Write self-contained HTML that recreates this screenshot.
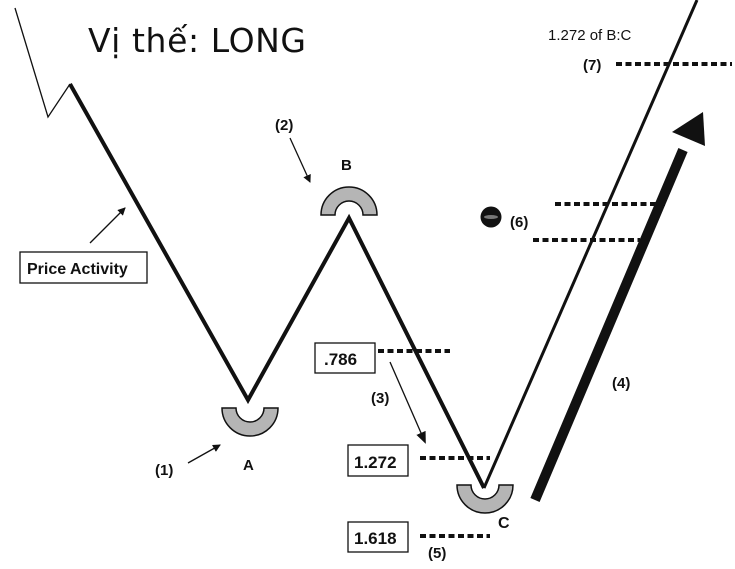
<!DOCTYPE html>
<html><head><meta charset="utf-8"><style>
body{margin:0;background:#fff}
svg text{font-family:"Liberation Sans",sans-serif;font-weight:bold;fill:#111}
</style></head><body>
<svg width="735" height="564" viewBox="0 0 735 564" xmlns="http://www.w3.org/2000/svg">
<defs><marker id="ah" markerWidth="8" markerHeight="8" refX="7" refY="4" orient="auto" markerUnits="userSpaceOnUse" viewBox="0 0 8 8"><path d="M0,0 L8,4 L0,8 Z" fill="#111"/></marker>
<marker id="ah2" markerWidth="12" markerHeight="12" refX="10" refY="6" orient="auto" markerUnits="userSpaceOnUse" viewBox="0 0 12 12"><path d="M0,1 L12,6 L0,11 Z" fill="#111"/></marker></defs>
<text x="88" y="52" font-size="33" style="font-weight:normal;font-family:'DejaVu Sans','Liberation Sans',sans-serif" textLength="218" fill="#111">Vị thế: LONG</text>
<polyline points="15,8 48,117 70,84" fill="none" stroke="#111" stroke-width="1.3"/>
<polyline points="70,84 248,400 349,218 484,488" fill="none" stroke="#111" stroke-width="4"/>
<line x1="484" y1="488" x2="697" y2="0" stroke="#111" stroke-width="3"/>
<!-- arches -->
<path d="M321,215 A28,28 0 0 1 377,215 L363,215 A14,14 0 0 0 335,215 Z" fill="#b5b5b5" stroke="#111" stroke-width="1.5"/>
<path d="M222,408 A28,28 0 0 0 278,408 L264,408 A14,14 0 0 1 236,408 Z" fill="#b5b5b5" stroke="#111" stroke-width="1.5"/>
<path d="M457,485 A28,28 0 0 0 513,485 L499,485 A14,14 0 0 1 471,485 Z" fill="#b5b5b5" stroke="#111" stroke-width="1.5"/>
<!-- big arrow -->
<line x1="535" y1="500" x2="683" y2="150" stroke="#111" stroke-width="10"/>
<polygon points="703,112 705,146 672,132" fill="#111"/>
<!-- price activity -->
<rect x="20" y="252" width="127" height="31" fill="#fff" stroke="#111" stroke-width="1.3"/>
<text x="27" y="274" font-size="16">Price Activity</text>
<line x1="90" y1="243" x2="125" y2="208" stroke="#111" stroke-width="1.3" marker-end="url(#ah)"/>
<text x="155" y="475" font-size="15">(1)</text>
<line x1="188" y1="463" x2="220" y2="445" stroke="#111" stroke-width="1.3" marker-end="url(#ah)"/>
<text x="243" y="470" font-size="15">A</text>
<text x="275" y="130" font-size="15">(2)</text>
<line x1="290" y1="138" x2="310" y2="182" stroke="#111" stroke-width="1.3" marker-end="url(#ah)"/>
<text x="341" y="170" font-size="15">B</text>
<rect x="315" y="343" width="60" height="30" fill="#fff" stroke="#111" stroke-width="1.3"/>
<text x="324" y="365" font-size="17">.786</text>
<line x1="378" y1="351" x2="450" y2="351" stroke="#111" stroke-width="4" stroke-dasharray="6,3.5"/>
<text x="371" y="403" font-size="15">(3)</text>
<line x1="390" y1="362" x2="425" y2="442" stroke="#111" stroke-width="1.3" marker-end="url(#ah2)"/>
<rect x="348" y="445" width="60" height="31" fill="#fff" stroke="#111" stroke-width="1.3"/>
<text x="354" y="468" font-size="17">1.272</text>
<line x1="420" y1="458" x2="490" y2="458" stroke="#111" stroke-width="4" stroke-dasharray="6,3.5"/>
<rect x="348" y="522" width="60" height="30" fill="#fff" stroke="#111" stroke-width="1.3"/>
<text x="354" y="544" font-size="17">1.618</text>
<line x1="420" y1="536" x2="490" y2="536" stroke="#111" stroke-width="4" stroke-dasharray="6,3.5"/>
<text x="428" y="558" font-size="15">(5)</text>
<text x="498" y="528" font-size="16">C</text>
<text x="548" y="40" font-size="15" style="font-weight:normal">1.272 of B:C</text>
<text x="583" y="70" font-size="15">(7)</text>
<line x1="616" y1="64" x2="732" y2="64" stroke="#111" stroke-width="4" stroke-dasharray="6,3.5"/>
<line x1="555" y1="204" x2="665" y2="204" stroke="#111" stroke-width="4" stroke-dasharray="6,3.5"/>
<line x1="533" y1="240" x2="640" y2="240" stroke="#111" stroke-width="4" stroke-dasharray="6,3.5"/>
<circle cx="491" cy="217" r="10.5" fill="#111"/>
<ellipse cx="491" cy="217" rx="7" ry="2" fill="#777"/>
<text x="510" y="227" font-size="15">(6)</text>
<text x="612" y="388" font-size="15">(4)</text>
</svg>
</body></html>
